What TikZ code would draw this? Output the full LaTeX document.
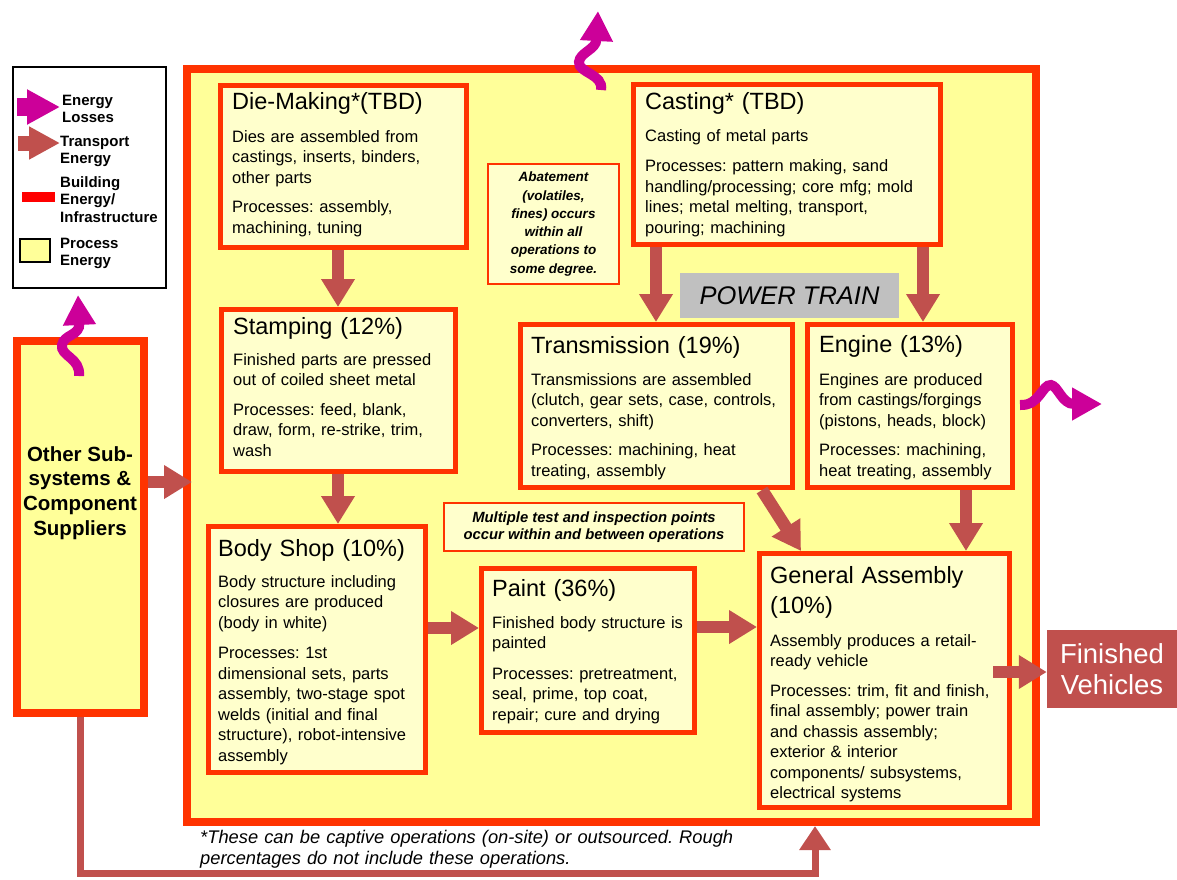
\documentclass[tikz,border=0pt]{standalone}
\usepackage{fontspec}
\setmainfont{Liberation Sans}
\usetikzlibrary{arrows.meta,fit,calc}
\definecolor{bred}{HTML}{FF3300}
\definecolor{mainfill}{HTML}{FFFF99}
\definecolor{pfill}{HTML}{FFFFCC}
\definecolor{tcol}{HTML}{C0504D}
\definecolor{ecol}{HTML}{CC0099}
\definecolor{ptgray}{HTML}{C0C0C0}
\definecolor{legred}{HTML}{FF0000}
\newcommand{\fs}[2]{\fontsize{#1}{#2}\selectfont}
\newcommand{\pbox}[5]{%
  \path ($(#2,#3)+(2.5,2.5)$) coordinate (#1nw) ($(#4,#5)+(-2.5,-2.5)$) coordinate (#1se);
  \node[pbox, fit=(#1nw)(#1se)] (#1) {};}
\tikzset{
  pbox/.style={draw=bred, line width=5pt, fill=pfill, inner sep=0pt},
  ttl/.style={font=\fs{23.5}{30}, align=left, inner sep=0pt, text width=240pt, anchor=base west},
  body/.style={font=\fs{16.5}{20.5}, align=left, inner sep=0pt, text width=300pt, anchor=base west},
  note/.style={font=\fs{13.5}{18.3}\bfseries\itshape, align=center, inner sep=0pt},
  tarrow/.style={draw=tcol, line width=12.5pt, -{Triangle[width=32pt,length=28pt]}},
  earrow/.style={draw=ecol, line width=10pt, -{Triangle[width=31pt,length=30pt]}},
  legtext/.style={font=\fs{15}{17.5}\bfseries, align=left, inner sep=0pt, text width=110pt, anchor=base west},
}
\frenchspacing
\begin{document}
\begin{tikzpicture}[x=1pt,y=-1pt]
\useasboundingbox (0,0) rectangle (1177,879);
% legend
\node[draw=black, line width=2pt, fill=white, minimum width=153pt, minimum height=221pt, inner sep=0pt] (legend) at (89.5,177.5) {};
\coordinate (l1a) at (17,107); \coordinate (l1b) at (60,107);
\draw[draw=ecol, line width=18pt, -{Triangle[width=33pt,length=33pt]}] (l1a) -- (l1b);
\coordinate (l2a) at (18,143); \coordinate (l2b) at (60,143);
\draw[draw=tcol, line width=15pt, -{Triangle[width=31pt,length=31pt]}] (l2a) -- (l2b);
\node[fill=legred, minimum width=33pt, minimum height=10pt, inner sep=0pt] (lbuild) at (38.5,197) {};
\node[draw=black, line width=2pt, fill=mainfill, minimum width=30pt, minimum height=23pt, inner sep=0pt] (lproc) at (35,250) {};
\node[legtext] (lt1) at (62,105) {Energy\\Losses};
\node[legtext] (lt2) at (60,146) {Transport\\Energy};
\node[legtext] (lt3) at (60,187) {Building\\Energy/\\Infrastructure};
\node[legtext] (lt4) at (60,248) {Process\\Energy};

% main plant box
\path (187,69) coordinate (mainnw) (1036,822) coordinate (mainse);
\node[draw=bred, line width=8pt, fill=mainfill, inner sep=0pt, fit=(mainnw)(mainse)] (main) {};

% other suppliers
\path (17,341) coordinate (othnw) (144,713) coordinate (othse);
\node[draw=bred, line width=8pt, fill=mainfill, inner sep=0pt, fit=(othnw)(othse)] (oth) {};
\node[font=\fs{20.5}{24.8}\bfseries, align=center, inner sep=0pt] (otht) at (80,493) {Other Sub-\\systems \&\\Component\\Suppliers};

% process boxes
\pbox{die}{218}{83}{469}{250}
\pbox{cast}{631}{82}{943}{247}
\pbox{stamp}{219}{307}{458}{474}
\pbox{trans}{518}{322}{795}{490}
\pbox{eng}{805}{322}{1015}{490}
\pbox{body}{206}{524}{428}{775}
\pbox{paint}{479}{566}{697}{735}
\pbox{ga}{757}{551}{1012}{810}

% notes
\node[draw=bred, line width=2pt, fill=pfill, minimum width=131pt, minimum height=120pt, inner sep=0pt] (abate) at (553.5,224) {};
\node[note] (abatet) at (553.5,224) {Abatement\\(volatiles,\\fines) occurs\\within all\\operations to\\some degree.};
\node[draw=bred, line width=2pt, fill=pfill, minimum width=300pt, minimum height=48pt, inner sep=0pt] (multi) at (594,527) {};
\node[note, font=\fs{14.8}{17.5}\bfseries\itshape] (multit) at (594,527) {Multiple test and inspection points\\occur within and between operations};
\node[fill=ptgray, minimum width=219pt, minimum height=45pt, inner sep=0pt, font=\fs{25.5}{28}\itshape] (pt) at (789.5,295.5) {POWER TRAIN};

% texts
\node[ttl] (dieT) at (232,109) {Die-Making*(TBD)};
\node[body] (dieB) at (232,142) {Dies are assembled from\\castings, inserts, binders,\\other parts\\[9pt]Processes: assembly,\\machining, tuning};
\node[ttl] (castT) at (645,109) {Casting* (TBD)};
\node[body] (castB) at (645,141) {Casting of metal parts\\[10pt]Processes: pattern making, sand\\handling/processing; core mfg; mold\\lines; metal melting, transport,\\pouring; machining};
\node[ttl] (stampT) at (233,334) {Stamping (12\%)};
\node[body] (stampB) at (233,365) {Finished parts are pressed\\out of coiled sheet metal\\[9pt]Processes: feed, blank,\\draw, form, re-strike, trim,\\wash};
\node[ttl] (transT) at (531,353) {Transmission (19\%)};
\node[body] (transB) at (531,385) {Transmissions are assembled\\(clutch, gear sets, case, controls,\\converters, shift)\\[9pt]Processes: machining, heat\\treating, assembly};
\node[ttl] (engT) at (819,352) {Engine (13\%)};
\node[body] (engB) at (819,385) {Engines are produced\\from castings/forgings\\(pistons, heads, block)\\[9pt]Processes: machining,\\heat treating, assembly};
\node[ttl] (bodyT) at (218,556) {Body Shop (10\%)};
\node[body] (bodyB) at (218,587) {Body structure including\\closures are produced\\(body in white)\\[10pt]Processes: 1st\\dimensional sets, parts\\assembly, two-stage spot\\welds (initial and final\\structure), robot-intensive\\assembly};
\node[ttl] (paintT) at (492,596) {Paint (36\%)};
\node[body] (paintB) at (492,628) {Finished body structure is\\painted\\[10pt]Processes: pretreatment,\\seal, prime, top coat,\\repair; cure and drying};
\node[ttl] (gaT) at (770,583) {General Assembly\\(10\%)};
\node[body] (gaB) at (770,646) {Assembly produces a retail-\\ready vehicle\\[9pt]Processes: trim, fit and finish,\\final assembly; power train\\and chassis assembly;\\exterior \& interior\\components/ subsystems,\\electrical systems};

% finished vehicles
\node[fill=tcol, text=white, minimum width=130pt, minimum height=78pt, inner sep=0pt, align=center, font=\fs{27.5}{31}] (fin) at (1112,669) {Finished\\Vehicles};

% footnote
\node[font=\fs{18.3}{21.5}\itshape, align=left, inner sep=0pt, text width=600pt, anchor=base west] (foot) at (200,843) {*These can be captive operations (on-site) or outsourced. Rough\\percentages do not include these operations.};

% transport arrows
\draw[tarrow] (die.south -| 338,0) -- (stamp.north -| 338,0);
\draw[tarrow] (stamp.south -| 338,0) -- (body.north -| 338,0);
\draw[tarrow] (body.east |- 0,628) -- (paint.west |- 0,628);
\draw[tarrow] (paint.east |- 0,627) -- (ga.west |- 0,627);
\draw[tarrow] (cast.south -| 656,0) -- (trans.north -| 656,0);
\draw[tarrow] (cast.south -| 923,0) -- (eng.north -| 923,0);
\draw[tarrow] (trans.south -| 762,0) -- (ga.north -| 801,0);
\draw[tarrow] (eng.south -| 966,0) -- (ga.north -| 966,0);
\coordinate (gaout) at (993,672);
\draw[tarrow] (gaout) -- (fin.west |- 0,672);
\draw[tarrow] (oth.east |- 0,482) -- (192,482);
\draw[draw=tcol, line width=7pt, -{Triangle[width=30pt,length=24pt]}] (oth.south -| 80,0) -- (80,873) -| (main.south -| 815,0);

% energy loss arrows
\draw[earrow] (601,90) .. controls (604,74) and (578,73) .. (579,62) .. controls (580,52) and (596,50) .. (598,11);
\draw[earrow] (79,376) .. controls (81,358) and (60,356) .. (62,345) .. controls (64,334) and (80,336) .. (78,295);
\draw[earrow] (1020,405) .. controls (1040,406) and (1042,384) .. (1051,385) .. controls (1058,386) and (1062,404) .. (1102,404);
\end{tikzpicture}
\end{document}
